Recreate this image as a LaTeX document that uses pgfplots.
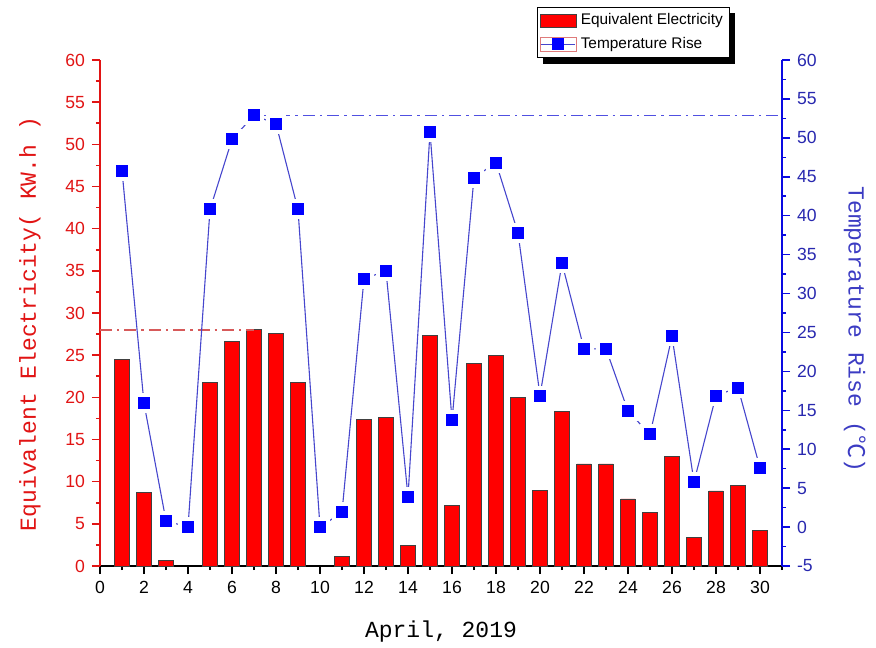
\documentclass[border=0pt]{standalone}
\usepackage{fontspec}
\setmainfont{Liberation Sans}
\newfontfamily\labfont{Liberation Mono}
\newfontfamily\cjk{Noto Sans CJK SC}
\usepackage{pgfplots}
\pgfplotsset{compat=1.18}
\pgfdeclarelayer{bg}
\pgfsetlayers{bg,main}
\definecolor{barred}{RGB}{255,0,0}
\definecolor{axred}{RGB}{225,20,20}
\definecolor{axblue}{RGB}{10,10,225}
\definecolor{lblue}{RGB}{40,40,175}
\definecolor{lineblue}{RGB}{70,70,205}
\definecolor{refred}{RGB}{215,90,90}
\definecolor{refblue}{RGB}{60,60,195}
\definecolor{dashblue}{RGB}{80,80,225}
\begin{document}
\begin{tikzpicture}
\begin{axis}[name=ax, scale only axis, width=341pt, height=253pt,
  xmin=0, xmax=31, ymin=0, ymax=60,
  axis y line*=left, axis x line*=bottom, axis line style={-},
  x axis line style={black, line width=0.9pt},
  y axis line style={axred, line width=0.9pt},
  xtick={0,2,...,30}, minor xtick={1,3,...,31},
  ytick={0,5,...,60}, minor ytick={2.5,7.5,...,57.5},
  tick align=outside, major tick length=4pt, minor tick length=2pt,
  x tick style={black, line width=0.8pt},
  y tick style={axred, line width=0.8pt},
  ticklabel style={font=\fontsize{8.8}{10}\selectfont},
  yticklabel style={axred},
  /pgf/number format/assume math mode=true,
  xlabel={\labfont April, 2019},
  xlabel style={font=\fontsize{11.5}{12}\selectfont, at={(axis description cs:0.5,-0.130)}, anchor=center},
  ylabel={\labfont Equivalent Electricity( KW.h )},
  ylabel style={axred, font=\fontsize{11.5}{12}\selectfont, at={(axis description cs:-0.1026,0.478)}, anchor=center},
  clip=false,
]
\addplot[ybar, bar width=0.65, fill=barred, draw=black!75, line width=0.4pt] coordinates {
(1,24.5) (2,8.7) (3,0.63) (5,21.8) (6,26.6) (7,28.0) (8,27.6) (9,21.8)
(11,1.15) (12,17.4) (13,17.6) (14,2.4) (15,27.3) (16,7.2) (17,24.0) (18,25.0)
(19,20.0) (20,9.0) (21,18.3) (22,12.1) (23,12.1) (24,7.95) (25,6.3) (26,13.0)
(27,3.35) (28,8.9) (29,9.5) (30,4.2)
};
\addplot[refred, line width=0.7pt, dash pattern=on 6pt off 2.5pt on 1.2pt off 2.5pt, forget plot] coordinates {(0,28.0) (7,28.0)};
\end{axis}
\begin{axis}[scale only axis, width=341pt, height=253pt,
  xmin=0, xmax=31, ymin=-5, ymax=60,
  axis y line*=right, axis x line=none, axis line style={-},
  y axis line style={axblue, line width=0.9pt},
  ytick={-5,0,...,60}, minor ytick={-2.5,2.5,...,57.5},
  tick align=outside, major tick length=4pt, minor tick length=2pt,
  y tick style={axblue, line width=0.8pt},
  yticklabel style={lblue, font=\fontsize{8.8}{10}\selectfont},
  /pgf/number format/assume math mode=true,
  ylabel={\labfont Temperature Rise ({\cjk ℃})},
  ylabel style={refblue, rotate=180, font=\fontsize{11.5}{12}\selectfont, at={(axis description cs:1.107,0.468)}, anchor=center},
  legend style={name=leg, at={(axis description cs:0.641,1.105)}, anchor=north west,
    font=\fontsize{7.7}{8.5}\selectfont, draw=black, fill=white,
    inner sep=1.2pt, row sep=0.6pt, legend cell align=left,
    /tikz/every even column/.append style={column sep=1.5pt}},
  clip=false,
]
\addlegendimage{legend image code/.code={\draw[fill=barred, draw=black!75, line width=0.4pt] (0pt,-3.3pt) rectangle (18pt,3.3pt);}}
\addlegendentry{Equivalent Electricity}
\addplot[lineblue, line width=0.55pt, mark=square*, mark size=4pt,
  mark options={solid, fill=blue, draw=white, line width=2pt},
  legend image code/.code={\draw[refred!80, line width=0.4pt] (0pt,-3.5pt) rectangle (18pt,3.5pt);
    \draw[lineblue, line width=0.55pt] (0.5pt,0pt) -- (17.5pt,0pt);
    \fill[blue] (6.3pt,-2.7pt) rectangle (11.7pt,2.7pt);}] coordinates {
(1,45.8) (2,15.9) (3,0.8) (4,0.0) (5,40.8) (6,49.8) (7,52.9) (8,51.8) (9,40.8) (10,0.0)
(11,1.9) (12,31.9) (13,32.9) (14,3.9) (15,50.8) (16,13.7) (17,44.9) (18,46.8) (19,37.8) (20,16.9)
(21,33.9) (22,22.9) (23,22.9) (24,14.9) (25,11.9) (26,24.5) (27,5.8) (28,16.9) (29,17.9) (30,7.6)
};
\addlegendentry{Temperature Rise}
\addplot[dashblue, line width=0.75pt, dash pattern=on 6pt off 2.5pt on 1.2pt off 2.5pt, forget plot] coordinates {(7,52.9) (31,52.9)};
\end{axis}
\begin{pgfonlayer}{bg}
\fill[black] ([shift={(2.8pt,-3pt)}]leg.south west) rectangle ([shift={(2.8pt,-3pt)}]leg.north east);
\end{pgfonlayer}
\pgfresetboundingbox
\path ([shift={(-50pt,-40.5pt)}]ax.south west) rectangle ([shift={(47pt,30pt)}]ax.north east);
\end{tikzpicture}
\end{document}
